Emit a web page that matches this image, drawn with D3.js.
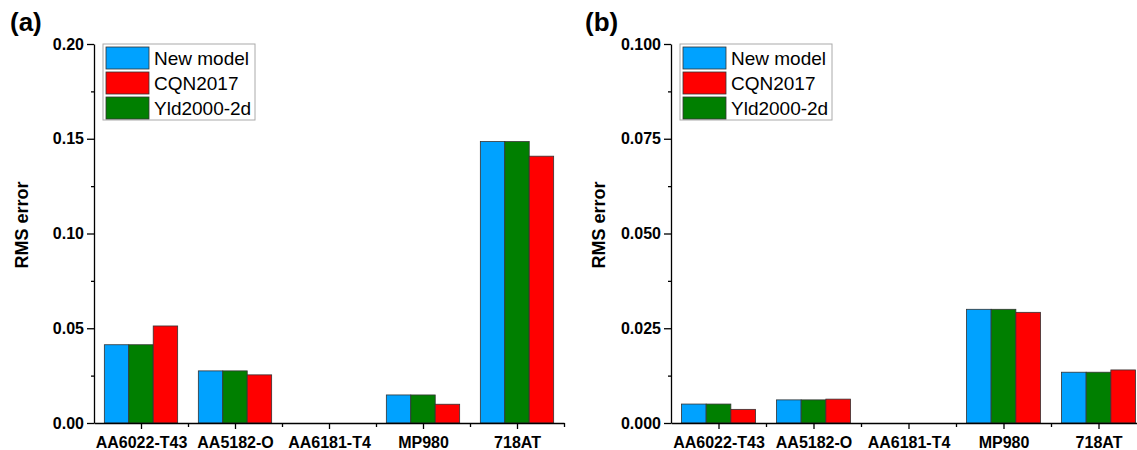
<!DOCTYPE html>
<html>
<head>
<meta charset="utf-8">
<script src="https://d3js.org/d3.v7.min.js"></script>
<style>
  body { margin: 0; background: #fff; }
  text { font-family: "Liberation Sans", Arial, sans-serif; }
</style>
</head>
<body>
<div id="chart"></div>
<script>
// categories along x, same for both panels
var categories = ["AA6022-T43", "AA5182-O", "AA6181-T4", "MP980", "718AT"];
// series in the order the bars are drawn
var seriesNames = ["New model", "Yld2000-2d", "CQN2017"];
var legendOrder = ["New model", "CQN2017", "Yld2000-2d"];
var colors = {"New model": "#00a2ff", "CQN2017": "#ff0000", "Yld2000-2d": "#007f00"};

// (a) RMS error values
var aNewModel = [0.0413, 0.0275, 0, 0.0148, 0.1485];
var aYld2000  = [0.0413, 0.0275, 0, 0.0148, 0.1485];
var aCQN2017  = [0.0512, 0.0254, 0, 0.0099, 0.1408];
var aTicks = [0, 0.05, 0.10, 0.15, 0.20];

// (b) RMS error values
var bNewModel = [0.0050, 0.0061, 0, 0.0300, 0.0134];
var bYld2000  = [0.0050, 0.0061, 0, 0.0300, 0.0134];
var bCQN2017  = [0.0036, 0.0063, 0, 0.0292, 0.0140];
var bTicks = [0, 0.025, 0.050, 0.075, 0.100];

var svg = d3.select("#chart").append("svg")
    .attr("width", 1137).attr("height", 450);

function drawPanel(opts) {
    var g = svg.append("g");
    var rows = [opts.newModel, opts.yld, opts.cqn];

    var x = d3.scaleLinear().domain([0.5, 5.5]).range([opts.left, opts.right]);
    var y = d3.scaleLinear().domain([0, opts.ticks[opts.ticks.length - 1]]).range([423, 44]);

    // group of three bars takes ~78% of each category slot
    var barW = x(1.26) - x(1);

    rows.forEach(function(vals, j) {
        g.selectAll(null).data(vals).enter().append("rect")
            .attr("x", function(d, i) { return x(i + 1) - 1.5 * barW + j * barW; })
            .attr("y", function(d) { return y(d); })
            .attr("width", barW)
            .attr("height", function(d) { return y(0) - y(d); })
            .attr("fill", colors[seriesNames[j]])
            .attr("stroke", "#333")
            .attr("stroke-width", 0.8)
            .style("display", function(d) { return d > 0 ? null : "none"; });
    });

    // minor ticks first so the main axes sit on top
    var minorY = [];
    for (var k = 0; k < opts.ticks.length - 1; k++) minorY.push((opts.ticks[k] + opts.ticks[k + 1]) / 2);
    g.append("g").attr("transform", "translate(" + opts.left + ",0)")
        .call(d3.axisLeft(y).tickValues(minorY).tickSize(3).tickFormat("").tickSizeOuter(0))
        .call(function(s) { s.select(".domain").remove(); });
    g.append("g").attr("transform", "translate(0,423)")
        .call(d3.axisBottom(x).tickValues([1.5, 2.5, 3.5, 4.5, 5.5]).tickSize(4).tickFormat("").tickSizeOuter(0))
        .call(function(s) { s.select(".domain").remove(); });

    var yAxis = g.append("g").attr("transform", "translate(" + opts.left + ",0)")
        .call(d3.axisLeft(y).tickValues(opts.ticks).tickFormat(d3.format(opts.fmt))
            .tickSize(7).tickPadding(3).tickSizeOuter(0));
    yAxis.selectAll("text").style("font-size", "16px").style("font-weight", "bold").attr("fill", "#000");

    var xAxis = g.append("g").attr("transform", "translate(0,423)")
        .call(d3.axisBottom(x).tickValues([1, 2, 3, 4, 5])
            .tickFormat(function(d) { return categories[d - 1]; })
            .tickSize(6).tickPadding(8).tickSizeOuter(0));
    xAxis.selectAll("text").style("font-size", "16px").style("font-weight", "bold").attr("fill", "#000");

    svg.selectAll(".domain, .tick line").attr("stroke", "#000").attr("stroke-width", 1.3);

    // y title
    g.append("text")
        .attr("transform", "translate(" + opts.titleX + ",225) rotate(-90)")
        .attr("text-anchor", "middle")
        .style("font-size", "18px").style("font-weight", "bold")
        .text("RMS error");

    // panel letter
    g.append("text").attr("x", opts.letterX).attr("y", 31)
        .style("font-size", "26px").style("font-weight", "bold")
        .text(opts.letter);

    // legend
    var lg = g.append("g").attr("transform", "translate(" + (opts.left + 9) + ",44)");
    lg.append("rect").attr("width", 152).attr("height", 76)
        .attr("fill", "#fff").attr("stroke", "#aaa").attr("stroke-width", 1);
    legendOrder.forEach(function(name, i) {
        lg.append("rect").attr("x", 3).attr("y", 3 + i * 25).attr("width", 43).attr("height", 22)
            .attr("fill", colors[name]).attr("stroke", "#333").attr("stroke-width", 0.8);
        lg.append("text").attr("x", 51).attr("y", 21 + i * 25)
            .style("font-size", "19px").text(name);
    });
}

drawPanel({left: 94, right: 564, ticks: aTicks, fmt: ".2f", letter: "(a)", letterX: 10, titleX: 28,
    newModel: aNewModel, yld: aYld2000, cqn: aCQN2017});
drawPanel({left: 671, right: 1146, ticks: bTicks, fmt: ".3f", letter: "(b)", letterX: 585, titleX: 605,
    newModel: bNewModel, yld: bYld2000, cqn: bCQN2017});
</script>
</body>
</html>
